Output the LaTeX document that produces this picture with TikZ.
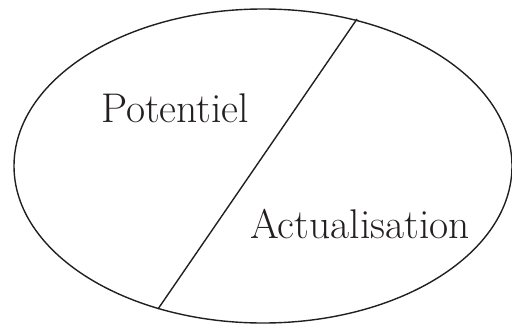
\documentclass[tikz,border=0pt]{standalone}
\usepackage{tikz}
\usetikzlibrary{calc}
\definecolor{ink}{HTML}{231F20}

\begin{document}
\begin{tikzpicture}[x=1pt, y=-1pt,
    label/.style={font=\fontsize{41.5}{44}\selectfont, text=ink, anchor=base, inner sep=0pt},
    rim/.style={draw=ink, line width=1.4pt}
  ]
    \useasboundingbox (0,0) rectangle (512,327);
    \coordinate (c) at (263,166);
    \draw[rim] (c) ellipse [x radius=249, y radius=157];
    \coordinate (top) at ($(c)+(94,-147)$);
    \coordinate (bot) at ($(c)+(-105,143)$);
    \draw[rim] (top) -- (bot);
    \node[label] (pot) at (175,122) {Potentiel};
    \node[label] (act) at (360,238) {Actualisation};
  \end{tikzpicture}
\end{document}
